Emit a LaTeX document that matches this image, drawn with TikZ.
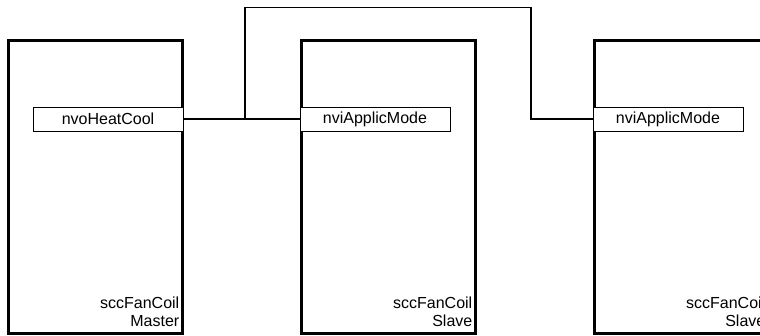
\documentclass[tikz,border=0pt]{standalone}
\usepackage{fontspec}
\setmainfont{Liberation Sans}
\begin{document}
\begin{tikzpicture}[x=1pt,y=-1pt,
  fcbox/.style={draw, line width=3pt, minimum width=174pt, minimum height=293pt, inner sep=0pt},
  port/.style={draw, line width=0.9pt, fill=white, minimum width=150pt, minimum height=24pt, inner sep=0pt, font=\fontsize{16}{18}\selectfont},
  lbl/.style={anchor=south east, align=right, inner sep=0pt, font=\fontsize{16}{17.7}\selectfont},
  wire/.style={line width=1.4pt}]
\useasboundingbox (0,0) rectangle (760,335);
\clip (0,0) rectangle (760,335);
% function blocks
\node[fcbox] (b1) at (95,186.5) {};
\node[fcbox] (b2) at (388,186.5) {};
\node[fcbox] (b3) at (681,186.5) {};
% ports
\node[port, anchor=east] (p1) at (b1.east |- 0,119) {nvoHeatCool};
\node[port, anchor=west] (p2) at (b2.west |- 0,119) {nviApplicMode};
\node[port, anchor=west] (p3) at (b3.west |- 0,119) {nviApplicMode};
% labels
\node[lbl] (l1) at ([xshift=-4pt,yshift=8pt]b1.south east) {sccFanCoil\\Master};
\node[lbl] (l2) at ([xshift=-4pt,yshift=8pt]b2.south east) {sccFanCoil\\Slave};
\node[lbl] (l3) at ([xshift=-4pt,yshift=8pt]b3.south east) {sccFanCoil\\Slave};
% connectors
\coordinate (j) at (245,119);
\coordinate (t1) at (245,7.5);
\coordinate (t2) at (531,7.5);
\draw[wire] (p1.east) -- (p2.west);
\draw[wire] (j) -- (t1) -- (t2) |- (p3.west);
\end{tikzpicture}
\end{document}
